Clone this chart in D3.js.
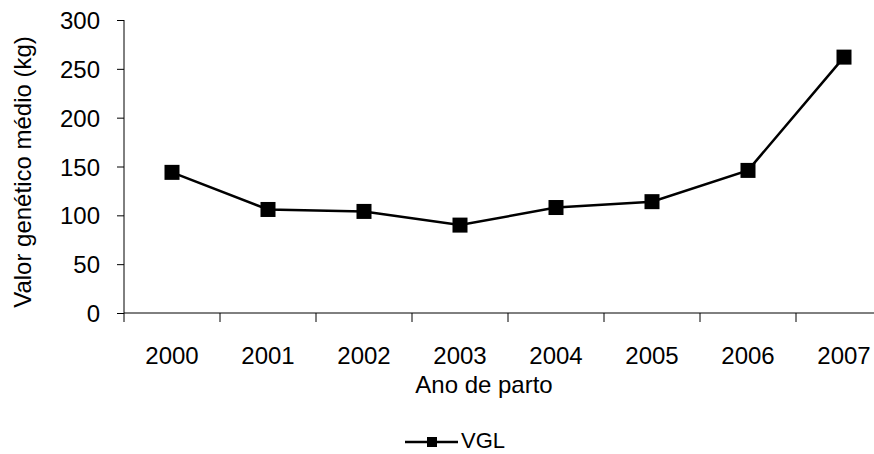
<!DOCTYPE html>
<html>
<head>
<meta charset="utf-8">
<script src="https://cdn.jsdelivr.net/npm/d3@7"></script>
<style>
  body { margin: 0; background: #fff; }
  text { font-family: "Liberation Sans", Arial, sans-serif; fill: #000; }
</style>
</head>
<body>
<script>
// data
const anos = ['2000', '2001', '2002', '2003', '2004', '2005', '2006', '2007'];
const vgl = [144, 106, 104, 90, 108, 114, 146, 262];
const yTicks = [0, 50, 100, 150, 200, 250, 300];

const width = 874, height = 454;
const fs = "24px";

const svg = d3.select("body").append("svg")
    .attr("width", width)
    .attr("height", height);

let x = d3.scaleBand()
    .domain(anos)
    .range([124, 892]);

let y = d3.scaleLinear()
    .domain([0, 300])
    .range([313, 20]);

// y axis
const yAxis = svg.append("g")
    .attr("transform", "translate(124,0)")
    .call(d3.axisLeft(y).tickValues(yTicks).tickSize(7).tickPadding(17));
yAxis.select(".domain").attr("d", `M0,${y(300)}V${y(0)}`);
yAxis.selectAll("text").style("font-size", fs).attr("dy", "0.36em");

// x axis, ticks between categories
const xAxis = svg.append("g")
    .attr("transform", "translate(0,313)");
xAxis.append("line")
    .attr("x1", 124).attr("x2", 892)
    .attr("stroke", "#000");
xAxis.selectAll("line.tick")
    .data(anos)
    .join("line")
    .attr("class", "tick")
    .attr("x1", d => x(d)).attr("x2", d => x(d))
    .attr("y1", 0).attr("y2", 9)
    .attr("stroke", "#000");
xAxis.selectAll("text")
    .data(anos)
    .join("text")
    .attr("x", d => x(d) + x.bandwidth() / 2)
    .attr("y", 51)
    .attr("text-anchor", "middle")
    .style("font-size", fs)
    .text(d => d);

svg.append("text")
    .attr("x", 484).attr("y", 393)
    .attr("text-anchor", "middle")
    .style("font-size", fs)
    .text("Ano de parto");

svg.append("text")
    .attr("transform", `translate(31,172) rotate(-90)`)
    .attr("text-anchor", "middle")
    .style("font-size", fs)
    .text("Valor genético médio (kg)");

// series
const line = d3.line()
    .x((d, i) => x(anos[i]) + x.bandwidth() / 2)
    .y(d => y(d));

svg.append("path")
    .datum(vgl)
    .attr("d", line)
    .attr("fill", "none")
    .attr("stroke", "#000")
    .attr("stroke-width", 2.5);

svg.append("g")
    .selectAll("rect")
    .data(vgl)
    .join("rect")
    .attr("x", (d, i) => x(anos[i]) + x.bandwidth() / 2 - 7.5)
    .attr("y", d => y(d) - 7.5)
    .attr("width", 15).attr("height", 15)
    .attr("fill", "#000");

// legend
const legend = svg.append("g").attr("transform", "translate(405,442)");
legend.append("line")
    .attr("x1", 0).attr("x2", 53)
    .attr("stroke", "#000").attr("stroke-width", 2.5);
legend.append("rect")
    .attr("x", 22).attr("y", -5)
    .attr("width", 10).attr("height", 10)
    .attr("fill", "#000");
legend.append("text")
    .attr("x", 56).attr("y", 6)
    .style("font-size", "22px")
    .text("VGL");
</script>
</body>
</html>
